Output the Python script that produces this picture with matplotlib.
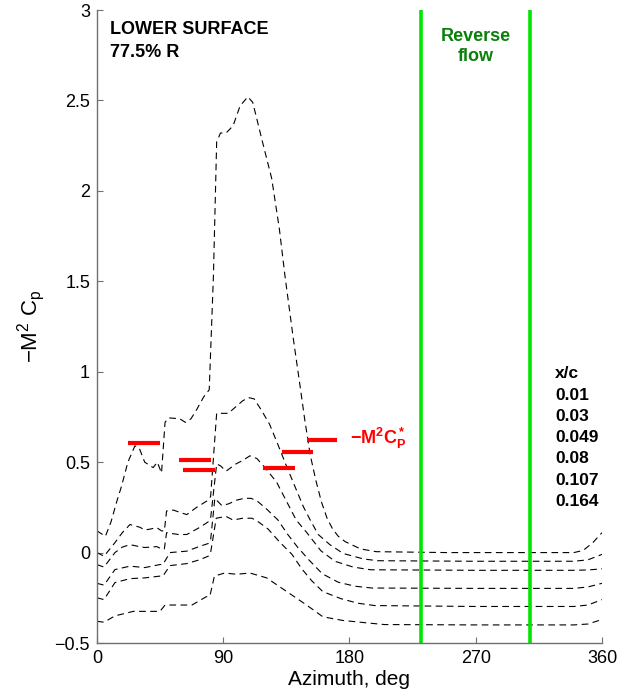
import matplotlib
matplotlib.use("Agg")
import matplotlib.pyplot as plt

plt.rcParams['font.family'] = ['Liberation Sans', 'DejaVu Sans']
plt.rcParams['mathtext.fontset'] = 'custom'
plt.rcParams['mathtext.rm'] = 'Liberation Sans'
plt.rcParams['mathtext.bf'] = 'Liberation Sans:bold'
plt.rcParams['mathtext.it'] = 'Liberation Sans'

# pressure curves, one per chordwise station
az_001 = [0, 6, 10, 14, 17.6, 22, 27, 30, 34, 40, 43, 46, 48.5, 51, 59, 63, 67, 71, 76, 80, 83, 85.3, 88, 92, 97,
          102, 107.5, 111, 118, 124.5, 130, 134, 140, 144.6, 148, 152, 156, 160, 164, 168, 172, 177, 188, 199,
          250, 300, 340, 346.6, 353.5, 360]
cp_001 = [0.12, 0.09, 0.17, 0.28, 0.37, 0.50, 0.59, 0.58, 0.50, 0.47, 0.50, 0.44, 0.72, 0.745, 0.74, 0.72, 0.74,
          0.79, 0.86, 0.90, 1.53, 2.27, 2.32, 2.32, 2.36, 2.47, 2.52, 2.49, 2.27, 2.07, 1.79, 1.53, 1.18, 0.93,
          0.74, 0.54, 0.40, 0.28, 0.19, 0.13, 0.09, 0.06, 0.02, 0.005, 0.0, 0.0, 0.0, 0.012, 0.055, 0.11]

az_003 = [0, 5, 12.8, 18, 23.5, 30.6, 34, 38, 42.6, 46, 48, 49.6, 54.4, 60, 64, 71, 79.3, 81, 85.3, 93.6, 99.5,
          104, 108, 112, 117, 123, 128, 135, 140, 147, 151.8, 157.7, 166, 175.5, 189.8, 200, 270, 340, 350, 360]
cp_003 = [0.0, -0.02, 0.055, 0.11, 0.155, 0.14, 0.125, 0.13, 0.138, 0.12, 0.12, 0.23, 0.235, 0.22, 0.21, 0.25,
          0.29, 0.31, 0.77, 0.77, 0.81, 0.84, 0.857, 0.85, 0.79, 0.71, 0.616, 0.48, 0.386, 0.256, 0.183, 0.10,
          0.044, -0.005, -0.035, -0.045, -0.048, -0.048, -0.04, -0.01]

az_0049 = [0, 5, 12.8, 18, 23.5, 29, 34, 42.6, 46, 48, 49.6, 58, 64, 73.4, 79.3, 81, 85.3, 88, 92, 99, 104, 109,
           114, 119.7, 128, 134, 142, 149.6, 159.6, 169.6, 182.6, 195, 270, 340, 350, 360]
cp_0049 = [-0.067, -0.08, 0.0, 0.03, 0.044, 0.035, 0.028, 0.033, 0.02, 0.02, 0.11, 0.10, 0.10, 0.14, 0.17, 0.19,
           0.49, 0.48, 0.45, 0.49, 0.51, 0.535, 0.52, 0.47, 0.39, 0.30, 0.18, 0.11, 0.01, -0.048, -0.08, -0.095,
           -0.098, -0.098, -0.096, -0.09]

az_008 = [0, 5, 12.8, 23.5, 34, 45, 47, 52, 64, 73.4, 79.3, 81, 84, 89, 94, 99.5, 105, 110, 115, 121, 129, 136,
          143, 151, 160.6, 172, 184, 196, 270, 340, 350, 360]
cp_008 = [-0.17, -0.18, -0.094, -0.075, -0.083, -0.066, -0.066, 0.0, 0.008, 0.035, 0.05, 0.07, 0.30, 0.26, 0.27,
          0.29, 0.30, 0.30, 0.28, 0.24, 0.18, 0.10, 0.03, -0.04, -0.117, -0.164, -0.186, -0.196, -0.198, -0.198,
          -0.19, -0.17]

az_0107 = [0, 5, 12.8, 23.5, 34, 45, 47, 52, 64, 73.4, 79.3, 81, 85, 92, 97, 104, 110.5, 115, 122, 130, 139, 146,
           153, 161, 174, 186, 198, 270, 340, 350, 360]
cp_0107 = [-0.25, -0.26, -0.166, -0.144, -0.14, -0.13, -0.13, -0.072, -0.061, -0.039, -0.02, 0.0, 0.19, 0.20,
           0.18, 0.19, 0.19, 0.17, 0.13, 0.06, -0.01, -0.09, -0.155, -0.216, -0.255, -0.28, -0.293, -0.298,
           -0.298, -0.29, -0.26]

az_0164 = [0, 5, 12.8, 25.9, 37.8, 44.9, 48.5, 57, 67.7, 77.7, 80.5, 83.7, 91, 99.5, 109, 121, 130.4, 139.9,
           149.4, 161, 175, 194, 205, 270, 340, 350, 360]
cp_0164 = [-0.38, -0.385, -0.35, -0.325, -0.325, -0.325, -0.29, -0.29, -0.29, -0.245, -0.24, -0.13, -0.113,
           -0.12, -0.113, -0.14, -0.19, -0.24, -0.29, -0.355, -0.375, -0.39, -0.398, -0.40, -0.40, -0.395, -0.37]

xc_labels = ['0.01', '0.03', '0.049', '0.08', '0.107', '0.164']

# critical -M^2 Cp* markers: start, end azimuth and level
star_az0 = [22.3, 58.6, 61.5, 118.5, 131.6, 149.4]
star_az1 = [45, 81, 84, 141, 153.7, 171.2]
star_cp = [0.605, 0.51, 0.455, 0.47, 0.555, 0.625]

reverse_az = [231, 309]

fig = plt.figure(figsize=(6.34, 6.92), dpi=100)
ax = fig.add_axes([0.153, 0.0708, 0.7965, 0.9147])

curves = [(az_001, cp_001), (az_003, cp_003), (az_0049, cp_0049),
          (az_008, cp_008), (az_0107, cp_0107), (az_0164, cp_0164)]
for az, cp in curves:
    ax.plot(az, cp, color='black', lw=0.8, linestyle=(0, (6, 4)))

for x in reverse_az:
    ax.axvline(x, color='#00e600', lw=2.6)

ax.hlines(star_cp, star_az0, star_az1, color='#ff0000', lw=3)

ax.text(180.3, 0.63, r'$\mathbf{-M^2C_P^*}$', color='#ff0000', fontsize=13, va='center', ha='left')
ax.text(270, 2.80, 'Reverse\nflow', color='#0a800a', fontsize=13, fontweight='bold',
        ha='center', va='center', linespacing=1.25)
ax.text(9.3, 2.83, 'LOWER SURFACE\n77.5% R', fontsize=13, fontweight='bold', va='center', ha='left',
        linespacing=1.45)

ax.text(326.5, 1.03, 'x/c\n' + '\n'.join(xc_labels), fontsize=12.5, fontweight='bold',
        va='top', ha='left', linespacing=1.52)

ax.set_xlim(0, 360)
ax.set_ylim(-0.5, 3)
ax.set_xticks([0, 90, 180, 270, 360])
ax.set_yticks([-0.5, 0, 0.5, 1, 1.5, 2, 2.5, 3])
ax.set_yticklabels(['\u22120.5', '0', '0.5', '1', '1.5', '2', '2.5', '3'])
ax.tick_params(direction='in', length=4, color='#707070', labelsize=13, pad=5)

for side in ['top', 'right']:
    ax.spines[side].set_visible(False)
for side in ['left', 'bottom']:
    ax.spines[side].set_color('#707070')
    ax.spines[side].set_linewidth(1.0)

ax.set_xlabel('Azimuth, deg', fontsize=15, labelpad=2)
ax.set_ylabel(r'$-\mathrm{M}^2\ \mathrm{C}_\mathrm{p}$', fontsize=16)
ax.yaxis.set_label_coords(-0.1, 0.5)

fig.savefig('out.png', dpi=100)
